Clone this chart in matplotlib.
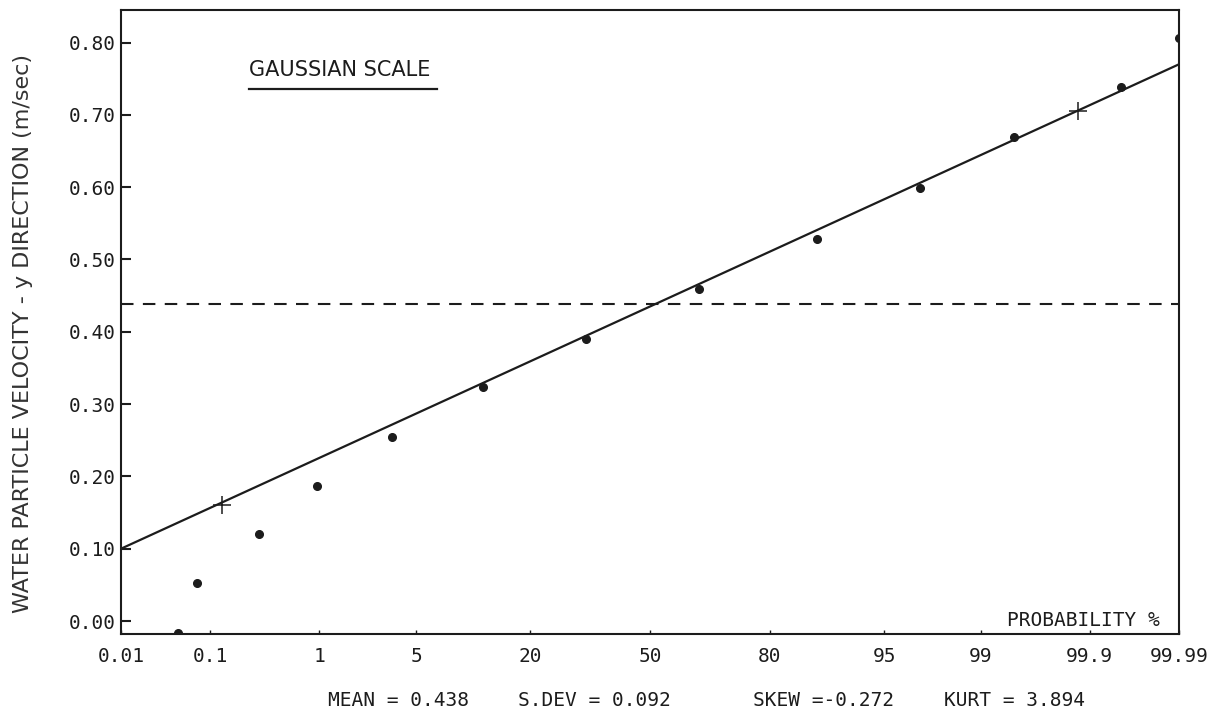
import numpy as np
import matplotlib
matplotlib.use("Agg")
import matplotlib.pyplot as plt
from statistics import NormalDist

# ---- data -------------------------------------------------------------
# cumulative probability (%) of each velocity class boundary
prob_pct = [0.045, 0.073, 0.30, 0.96, 3.5, 12.0, 32.5, 63.5, 88.0, 97.1, 99.47, 99.953, 99.99]
velocity = [-0.017, 0.053, 0.121, 0.187, 0.255, 0.323, 0.390, 0.459, 0.528, 0.599, 0.669, 0.739, 0.806]

# fitted Gaussian line (end points) and the +/-3 sigma markers on it
fit_prob = [0.01, 99.99]
fit_vel = [0.100, 0.770]
sigma_prob = [0.13, 99.87]
sigma_vel = [0.160, 0.706]

mean_vel = 0.438
stats_labels = ["MEAN = 0.438", "S.DEV = 0.092", "SKEW =-0.272", "KURT = 3.894"]

x_ticks = [0.01, 0.1, 1, 5, 20, 50, 80, 95, 99, 99.9, 99.99]
x_tick_labels = ["0.01", "0.1", "1", "5", "20", "50", "80", "95", "99", "99.9", "99.99"]
y_ticks = [0.0, 0.1, 0.2, 0.3, 0.4, 0.5, 0.6, 0.7, 0.8]

# ---- normal probability scale -----------------------------------------
_nd = NormalDist()
_ppf = np.vectorize(lambda q: _nd.inv_cdf(q) if np.isfinite(q) else np.nan, otypes=[float])
_cdf = np.vectorize(lambda z: _nd.cdf(z) if np.isfinite(z) else np.nan, otypes=[float])


def prob_to_z(p):
    q = np.clip(np.asarray(p, dtype=float) / 100.0, 1e-9, 1 - 1e-9)
    return _ppf(q)


def z_to_prob(z):
    return _cdf(np.asarray(z, dtype=float)) * 100.0


ink = "#1c1c1c"
mono = "DejaVu Sans Mono"
sans = "DejaVu Sans"

fig = plt.figure(figsize=(12.25, 7.16), dpi=100)
ax = fig.add_axes([0.0988, 0.1145, 0.8637, 0.8715])
ax.set_xscale("function", functions=(prob_to_z, z_to_prob))
ax.set_xlim(0.01, 99.99)
ax.set_ylim(-0.018, 0.845)

# mean level
ax.axhline(mean_vel, color=ink, lw=1.5, dashes=(6, 4.5))

# fitted line and sigma markers
ax.plot(fit_prob, fit_vel, color=ink, lw=1.6, solid_capstyle="butt")
ax.plot(sigma_prob, sigma_vel, linestyle="none", marker="+", ms=13, mew=1.1, color=ink)

# observed cumulative distribution
ax.plot(prob_pct, velocity, linestyle="none", marker="o", ms=5.5, color=ink, clip_on=True)

# axes styling
for side in ["left", "right", "top", "bottom"]:
    ax.spines[side].set_linewidth(1.5)
    ax.spines[side].set_color(ink)

ax.set_xticks(x_ticks)
ax.set_xticklabels(x_tick_labels)
ax.xaxis.set_minor_locator(matplotlib.ticker.NullLocator())
ax.set_yticks(y_ticks)
ax.set_yticklabels([f"{v:.2f}" for v in y_ticks])
ax.tick_params(axis="x", direction="in", length=3, width=1.0, pad=9, colors=ink,
               labelsize=14)
ax.tick_params(axis="y", direction="in", length=7, width=1.5, pad=4, colors=ink,
               labelsize=14)
for lab in ax.get_xticklabels() + ax.get_yticklabels():
    lab.set_fontfamily(mono)

# annotations inside the plot
ax.text(0.121, 0.904, "GAUSSIAN SCALE", transform=ax.transAxes, fontsize=15,
        family=sans, color=ink, ha="left", va="center")
ax.plot([0.121, 0.2987], [0.8734, 0.8734], transform=ax.transAxes, color=ink, lw=1.6)
ax.text(0.982, 0.022, "PROBABILITY %", transform=ax.transAxes, fontsize=14,
        family=mono, color=ink, ha="right", va="center")

# axis title
fig.text(0.0188, 0.534, "WATER PARTICLE VELOCITY - y DIRECTION (m/sec)", rotation=90,
         fontsize=16, family=sans, color="#333333", ha="center", va="center")

# summary statistics under the plot
stat_x = [328, 518, 753, 944]
for xp, txt in zip(stat_x, stats_labels):
    fig.text(xp / 1225, 0.0223, txt, fontsize=14, family=mono, color=ink,
             ha="left", va="center")

fig.savefig("out.png", dpi=100, facecolor="white")
